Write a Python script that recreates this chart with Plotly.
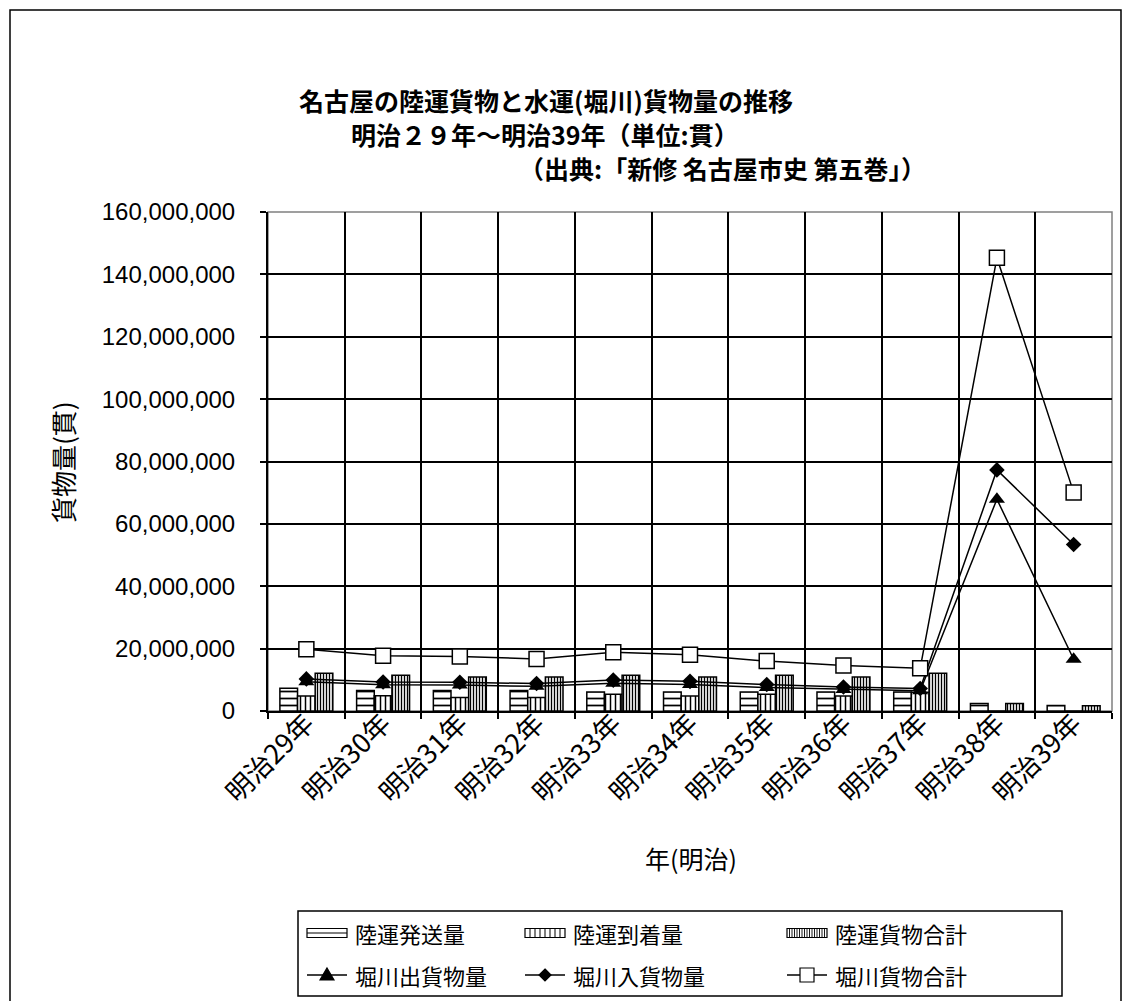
import plotly.graph_objects as go

# 明治29年〜39年 名古屋の陸運・堀川水運貨物量（単位：貫）
years = ["明治29年", "明治30年", "明治31年", "明治32年", "明治33年", "明治34年",
         "明治35年", "明治36年", "明治37年", "明治38年", "明治39年"]

land_ship = [7_300_000, 6_600_000, 6_600_000, 6_600_000, 6_100_000, 6_100_000,
             6_100_000, 6_100_000, 6_100_000, 2_400_000, 1_800_000]
land_arrive = [4_800_000, 4_900_000, 4_300_000, 4_300_000, 5_400_000, 4_800_000,
               5_400_000, 4_800_000, 6_000_000, 0, 0]
land_total = [12_100_000, 11_500_000, 10_900_000, 10_900_000, 11_500_000, 10_900_000,
              11_500_000, 10_900_000, 12_100_000, 2_400_000, 1_700_000]

canal_out = [9_400_000, 8_400_000, 8_300_000, 7_900_000, 8_900_000, 8_500_000,
             7_500_000, 6_900_000, 6_500_000, 67_900_000, 16_600_000]
canal_in = [10_300_000, 9_300_000, 9_200_000, 8_800_000, 9_900_000, 9_500_000,
            8_500_000, 7_700_000, 7_200_000, 77_300_000, 53_400_000]
canal_total = [19_800_000, 17_700_000, 17_500_000, 16_700_000, 18_800_000, 18_000_000,
               16_000_000, 14_600_000, 13_700_000, 145_300_000, 70_100_000]

y_ticks = list(range(0, 160_000_001, 20_000_000))

legend_names = ["陸運発送量", "陸運到着量", "陸運貨物合計",
                "堀川出貨物量", "堀川入貨物量", "堀川貨物合計"]

JP = "Noto Sans CJK JP"
NUM = "Liberation Sans"

W, H = 1123, 1001
ML, MR, MT, MB = 268, 11, 212, 290
PW, PH = W - ML - MR, H - MT - MB


def px(x):
    return (x - ML) / PW


def py(y):
    return (H - MB - y) / PH


xs = list(range(len(years)))

fig = go.Figure()

bar_line = dict(color="black", width=1.5)
bar_styles = [
    dict(shape="-", size=7, solidity=0.25),
    dict(shape="|", size=5, solidity=0.3),
    dict(shape="|", size=3, solidity=0.45),
]
for name, vals, pat in zip(legend_names[:3], [land_ship, land_arrive, land_total], bar_styles):
    fig.add_trace(go.Bar(
        x=xs, y=vals, name=name,
        marker=dict(color="white", line=bar_line,
                    pattern=dict(fillmode="replace", bgcolor="white",
                                 fgcolor="black", **pat)),
    ))

line_styles = [
    dict(symbol="triangle-up", size=14, color="black"),
    dict(symbol="diamond", size=12, color="black"),
    dict(symbol="square", size=15, color="white", line=dict(color="black", width=1.5)),
]
for name, vals, mk in zip(legend_names[3:], [canal_out, canal_in, canal_total], line_styles):
    fig.add_trace(go.Scatter(
        x=xs, y=vals, name=name, mode="lines+markers",
        line=dict(color="black", width=1.5), marker=mk,
    ))

title_lines = [
    ("名古屋の陸運貨物と水運(堀川)貨物量の推移", 546, 100),
    ("明治２９年～明治39年（単位:貫）", 545, 134),
    ("（出典:「新修 名古屋市史 第五巻」）", 722, 168),
]
annotations = []
for text, cx, cy in title_lines:
    annotations.append(dict(
        text=f"<b>{text}</b>", x=px(cx), y=py(cy), xref="paper", yref="paper",
        xanchor="center", yanchor="middle", showarrow=False, borderpad=0,
        font=dict(family=JP, size=25, color="black"),
    ))
annotations.append(dict(
    text="貨物量(貫)", x=px(62), y=py(462), xref="paper", yref="paper",
    xanchor="center", yanchor="middle", showarrow=False, textangle=-90,
    font=dict(family=JP, size=26, color="black"),
))
annotations.append(dict(
    text="年(明治)", x=px(691), y=py(858), xref="paper", yref="paper",
    xanchor="center", yanchor="middle", showarrow=False,
    font=dict(family=JP, size=25, color="black"),
))

BLK = dict(color="black", width=1.5)
shapes = [
    # outer chart frame
    dict(type="rect", xref="paper", yref="paper",
         x0=px(10), x1=px(1121), y0=py(1010), y1=py(10),
         line=BLK, layer="below"),
    # plot area border
    dict(type="rect", xref="paper", yref="paper", x0=0, x1=1, y0=0, y1=1,
         line=dict(color="#808080", width=1.5), layer="below"),
    # legend box
    dict(type="rect", xref="paper", yref="paper",
         x0=px(298), x1=px(1062), y0=py(996), y1=py(911),
         line=BLK, fillcolor="white"),
]


def seg(x0, y0, x1, y1, width=1.5):
    return dict(type="line", xref="paper", yref="paper",
                x0=px(x0), y0=py(y0), x1=px(x1), y1=py(y1),
                line=dict(color="black", width=width))


def poly(points, fill):
    d = "M " + " L ".join(f"{px(a)},{py(b)}" for a, b in points) + " Z"
    return dict(type="path", xref="paper", yref="paper", path=d,
                fillcolor=fill, line=dict(color="black", width=1.2))


# legend keys
rows = [933, 975]
cols = [307, 525, 787]
KW, KH = 40, 9
for i, name in enumerate(legend_names):
    r, c = divmod(i, 3)
    ky, kx = rows[r], cols[c]
    if r == 0:
        shapes.append(dict(type="rect", xref="paper", yref="paper",
                           x0=px(kx), x1=px(kx + KW), y0=py(ky + KH / 2), y1=py(ky - KH / 2),
                           line=dict(color="black", width=1.2), fillcolor="white"))
        if c == 0:
            shapes.append(seg(kx, ky, kx + KW, ky, 1.2))
        else:
            step = 5 if c == 1 else 2.5
            xx = kx + step
            while xx < kx + KW - 0.5:
                shapes.append(seg(xx, ky - KH / 2, xx, ky + KH / 2, 1.0 if c == 1 else 0.9))
                xx += step
    else:
        shapes.append(seg(kx, ky, kx + KW, ky, 1.5))
        mx = kx + KW / 2
        if c == 0:
            shapes.append(poly([(mx, ky - 7), (mx + 7, ky + 5), (mx - 7, ky + 5)], "black"))
        elif c == 1:
            shapes.append(poly([(mx, ky - 6), (mx + 6, ky), (mx, ky + 6), (mx - 6, ky)], "black"))
        else:
            shapes.append(poly([(mx - 7, ky - 7), (mx + 7, ky - 7), (mx + 7, ky + 7), (mx - 7, ky + 7)], "white"))
    annotations.append(dict(
        text=name, x=px(kx + KW + 6), y=py(ky), xref="paper", yref="paper",
        xanchor="left", yanchor="middle", showarrow=False,
        font=dict(family=JP, size=22, color="black"),
    ))

fig.update_layout(
    width=W, height=H,
    margin=dict(l=ML, r=MR, t=MT, b=MB),
    paper_bgcolor="white", plot_bgcolor="white",
    barmode="group", bargap=0.31, bargroupgap=0,
    font=dict(family=f"{NUM}, {JP}", color="black"),
    annotations=annotations,
    shapes=shapes,
    showlegend=False,
    xaxis=dict(
        range=[-0.5, 10.5], tickmode="array", tickvals=xs, ticktext=years,
        tickangle=-45, ticks="", showgrid=False, zeroline=False,
        showline=True, linecolor="black", linewidth=2,
        ticklabelstandoff=-16,
        tickfont=dict(family=JP, size=27, color="black"),
        minor=dict(tickmode="linear", tick0=0.5, dtick=1, showgrid=True,
                   gridcolor="black", gridwidth=1.5, ticks="outside",
                   ticklen=6, tickcolor="black", tickwidth=1.5),
        fixedrange=True,
    ),
    yaxis=dict(
        range=[0, 160_000_000], tickmode="array", tickvals=y_ticks,
        tickformat=",d", showgrid=True, gridcolor="black", gridwidth=1.5,
        zeroline=False, showline=True, linecolor="black", linewidth=2,
        ticks="outside", ticklen=6, tickcolor="black", tickwidth=1.5,
        ticklabelstandoff=20,
        tickfont=dict(family=NUM, size=24, color="black"),
        fixedrange=True,
    ),
)

fig.write_html("out.html")
